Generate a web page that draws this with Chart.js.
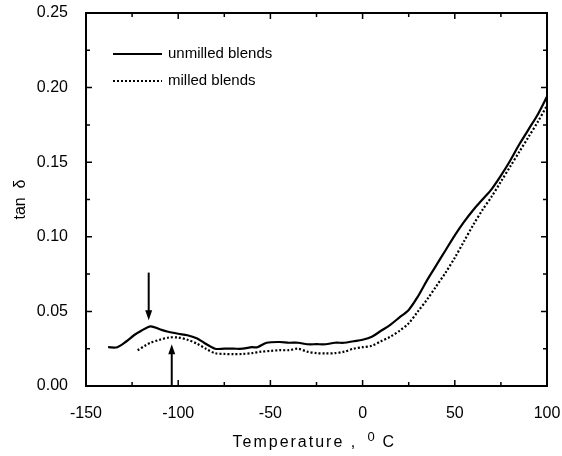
<!DOCTYPE html>
<html>
<head>
<meta charset="utf-8">
<script src="https://cdn.jsdelivr.net/npm/chart.js@4"></script>
<style>
  html, body { margin: 0; padding: 0; background: #fff; }
  #wrap { width: 562px; height: 456px; }
</style>
</head>
<body>
<div id="wrap"><canvas id="myChart"></canvas></div>
<script>
// unmilled blends (solid line)
const unmilledT = [-138, -133, -128, -124, -120, -115, -110, -106, -100, -95, -90, -86, -80, -75, -70, -65, -60, -57, -52, -45, -40, -35, -30, -25, -20, -15, -10, -5, 0, 5, 10, 15, 20, 25, 30, 35, 40, 45, 50, 55, 60, 65, 70, 75, 80, 85, 90, 95, 100];
const unmilledY = [0.026, 0.026, 0.030, 0.034, 0.037, 0.040, 0.038, 0.0365, 0.035, 0.034, 0.032, 0.029, 0.025, 0.025, 0.025, 0.025, 0.026, 0.026, 0.029, 0.0295, 0.029, 0.029, 0.028, 0.028, 0.028, 0.029, 0.029, 0.030, 0.031, 0.033, 0.037, 0.041, 0.046, 0.051, 0.060, 0.071, 0.081, 0.091, 0.101, 0.110, 0.118, 0.125, 0.132, 0.141, 0.151, 0.162, 0.172, 0.182, 0.194];

// milled blends (dotted line)
const milledT = [-122, -118, -115, -110, -105, -100, -95, -90, -85, -80, -75, -70, -65, -60, -55, -50, -45, -40, -35, -30, -25, -20, -15, -10, -5, 0, 5, 10, 15, 20, 25, 30, 35, 40, 45, 50, 55, 60, 65, 70, 75, 80, 85, 90, 95, 100];
const milledY = [0.024, 0.027, 0.029, 0.031, 0.0325, 0.0325, 0.031, 0.0285, 0.025, 0.022, 0.0215, 0.0213, 0.0215, 0.022, 0.023, 0.0235, 0.024, 0.024, 0.025, 0.023, 0.022, 0.0218, 0.022, 0.023, 0.025, 0.026, 0.027, 0.030, 0.033, 0.037, 0.042, 0.050, 0.058, 0.067, 0.076, 0.086, 0.097, 0.108, 0.118, 0.127, 0.137, 0.147, 0.157, 0.167, 0.177, 0.188];

const seriesNames = ["unmilled blends", "milled blends"];
const xTicks = [-150, -100, -50, 0, 50, 100];
const yTicks = [0.00, 0.05, 0.10, 0.15, 0.20, 0.25];

// peak markers: [temperature, tail value, head value]
const arrowDown = [-116, 0.076, 0.044];
const arrowUp = [-103.5, 0.0, 0.028];

const toPts = (xs, ys) => xs.map((x, i) => ({ x: x, y: ys[i] }));
const FONT = "'Liberation Sans', Arial, sans-serif";

const frame = {
  id: "frame",
  afterDraw(chart) {
    const c = chart.ctx;
    const a = chart.chartArea;
    const xs = chart.scales.x;
    const ys = chart.scales.y;
    c.save();
    c.strokeStyle = "#000";
    c.lineWidth = 2;
    c.strokeRect(a.left, a.top, a.right - a.left, a.bottom - a.top);

    // inside ticks on all four sides
    c.lineWidth = 1.5;
    c.beginPath();
    for (let v = -150; v <= 100; v += 25) {
      const px = xs.getPixelForValue(v);
      const len = v % 50 === 0 ? 6 : 4;
      c.moveTo(px, a.bottom); c.lineTo(px, a.bottom - len);
      c.moveTo(px, a.top); c.lineTo(px, a.top + len);
    }
    for (let k = 0; k <= 10; k++) {
      const py = ys.getPixelForValue(k * 0.025);
      const len = k % 2 === 0 ? 6 : 4;
      c.moveTo(a.left, py); c.lineTo(a.left + len, py);
      c.moveTo(a.right, py); c.lineTo(a.right - len, py);
    }
    c.stroke();

    // arrows
    function arrow(d) {
      const px = xs.getPixelForValue(d[0]);
      const y1 = ys.getPixelForValue(d[1]);
      const y2 = ys.getPixelForValue(d[2]);
      const dir = y2 > y1 ? 1 : -1;
      c.lineWidth = 2;
      c.beginPath();
      c.moveTo(px, y1); c.lineTo(px, y2 - dir * 6);
      c.stroke();
      c.beginPath();
      c.moveTo(px, y2);
      c.lineTo(px - 3.5, y2 - dir * 10);
      c.lineTo(px + 3.5, y2 - dir * 10);
      c.closePath();
      c.fill();
    }
    c.fillStyle = "#000";
    arrow(arrowDown);
    arrow(arrowUp);

    // legend
    const lx = a.left + 27;
    const ly = a.top + 41;
    c.font = "15px " + FONT;
    c.textBaseline = "middle";
    chart.data.datasets.forEach((ds, i) => {
      const y = ly + i * 27;
      c.strokeStyle = ds.borderColor;
      c.lineWidth = ds.borderWidth;
      c.setLineDash(ds.borderDash || []);
      c.beginPath();
      c.moveTo(lx, y); c.lineTo(lx + 49, y);
      c.stroke();
      c.setLineDash([]);
      c.fillText(ds.label, lx + 55, y);
    });

    // x axis title, spaced out like the original, superscript 0
    const cx = (a.left + a.right) / 2;
    const base = a.bottom + 61;
    c.textBaseline = "alphabetic";
    c.textAlign = "left";
    c.letterSpacing = "2px";
    c.font = "16px " + FONT;
    c.fillText("Temperature ,", cx - 84, base);
    c.letterSpacing = "0px";
    c.font = "13px " + FONT;
    c.fillText("0", cx + 51, base - 6);
    c.font = "16px " + FONT;
    c.fillText("C", cx + 66, base);
    c.restore();
  }
};

new Chart(document.getElementById("myChart"), {
  type: "line",
  data: {
    datasets: [
      {
        label: seriesNames[0],
        data: toPts(unmilledT, unmilledY),
        borderColor: "#000",
        borderWidth: 2.2,
        pointRadius: 0,
        tension: 0.3,
        fill: false,
      },
      {
        label: seriesNames[1],
        data: toPts(milledT, milledY),
        borderColor: "#000",
        borderWidth: 2.2,
        borderDash: [2, 2],
        pointRadius: 0,
        tension: 0.3,
        fill: false,
      },
    ],
  },
  options: {
    responsive: true,
    maintainAspectRatio: false,
    animation: false,
    layout: { padding: { top: 13, right: 15, left: 0, bottom: 0 } },
    plugins: {
      legend: { display: false },
      tooltip: { enabled: false },
    },
    scales: {
      x: {
        type: "linear",
        min: -150,
        max: 100,
        afterBuildTicks: (s) => { s.ticks = xTicks.map((v) => ({ value: v })); },
        afterFit: (s) => { s.height = 70; s.paddingLeft = 0; s.paddingRight = 0; },
        grid: { display: false },
        border: { display: false },
        ticks: {
          color: "#000",
          padding: 10,
          maxRotation: 0,
          font: { family: FONT, size: 16 },
        },
        title: { display: false },
      },
      y: {
        min: 0,
        max: 0.25,
        afterBuildTicks: (s) => { s.ticks = yTicks.map((v) => ({ value: v })); },
        afterFit: (s) => { s.width = 86; s.paddingTop = 0; s.paddingBottom = 0; },
        grid: { display: false },
        border: { display: false },
        ticks: {
          color: "#000",
          padding: 10,
          callback: (v) => v.toFixed(2),
          font: { family: FONT, size: 16 },
        },
        title: {
          display: true,
          text: "tan  \u03b4",
          color: "#000",
          padding: { top: 11, bottom: 0 },
          font: { family: FONT, size: 16 },
        },
      },
    },
  },
  plugins: [frame],
});
</script>
</body>
</html>
